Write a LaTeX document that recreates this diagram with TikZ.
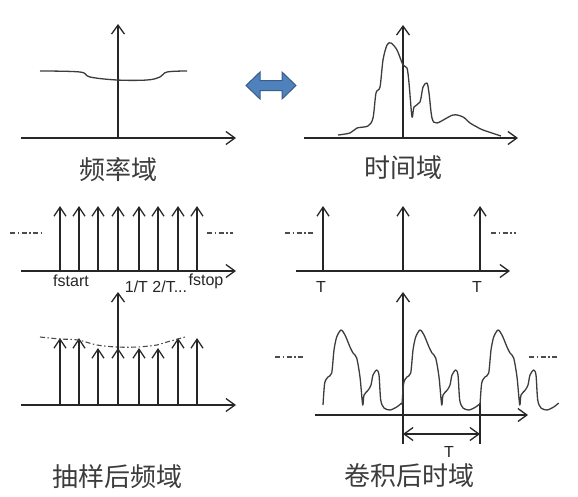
\documentclass[tikz,border=0pt]{standalone}
\usepackage{fontspec}
\setmainfont{Liberation Sans}
\newfontfamily\cjk{Noto Sans CJK SC}
\usetikzlibrary{arrows.meta}
\definecolor{ink}{HTML}{262626}
\definecolor{bluefill}{HTML}{4F81BD}
\definecolor{blueedge}{HTML}{385D8A}
\tikzset{
  ax/.style={draw=ink, line width=1.4pt, -{Straight Barb[length=9pt,width=13pt,line width=1.3pt]}},
  imp/.style={draw=ink, line width=1.4pt, -{Straight Barb[length=9pt,width=12pt,line width=1.3pt]}},
  sig/.style={draw=ink!90, line width=1.3pt, line join=round},
  dd/.style={draw=black!70, line width=1.1pt, dash pattern=on 5pt off 2.5pt on 1.5pt off 2.5pt},
  cjklab/.style={font=\cjk\fontsize{26}{28}\selectfont, text=ink!90, inner sep=0pt},
  lat/.style={font=\fontsize{16}{18}\selectfont, text=ink, inner sep=0pt},
}
\begin{document}
\begin{tikzpicture}[x=1pt,y=-1pt]
\useasboundingbox (0,0) rectangle (578,496);
\fill[white] (0,0) rectangle (578,496);

% ---------- Panel 1: frequency domain ----------
\coordinate (p1o) at (118,138);
\coordinate (p1l) at (21,138);
\coordinate (p1r) at (236,138);
\coordinate (p1t) at (118,24);
\draw[ax] (p1l) -- (p1r);
\draw[ax] (p1o) -- (p1t);
\draw[sig] plot[smooth, tension=0.6] coordinates {(40,71) (80,72) (90,77) (117,80) (147,80) (160,77) (167,72) (187,71)};
\node[cjklab] (l1) at (118,170) {频率域};

% ---------- Double arrow ----------
\filldraw[fill=bluefill, draw=blueedge, line width=1pt, line join=miter]
  (246,85.5) -- (260,72) -- (260,80.5) -- (282,80.5) -- (282,72) -- (296,85.5)
  -- (282,99) -- (282,90.5) -- (260,90.5) -- (260,99) -- cycle;

% ---------- Panel 2: time domain ----------
\coordinate (p2o) at (403,138);
\coordinate (p2l) at (304,138);
\coordinate (p2r) at (518,138);
\coordinate (p2t) at (403,25);
\draw[ax] (p2l) -- (p2r);
\draw[ax] (p2o) -- (p2t);
\draw[sig] plot[smooth, tension=0.5] coordinates {
 (338,135) (350,133) (357,128) (368,126) (373,118) (376,93) (380,87) (383,60)
 (387,45) (391,43) (397,50) (403,65) (407,68) (409,83) (412,117) (414,107)
 (420,102) (423,87) (427,83) (429,93) (432,118) (437,123) (453,115) (463,117)
 (470,123) (477,127) (483,130) (501,136)};
\node[cjklab] (l2) at (403,168) {时间域};

% ---------- Panel 3: sampling comb (frequency) ----------
\coordinate (p3l) at (21,271);
\coordinate (p3r) at (236,271);
\draw[ax] (p3l) -- (p3r);
\foreach \x [count=\i] in {60,79,98,118,139,158,178,197} {
  \coordinate (c3b\i) at (\x,271);
  \coordinate (c3t\i) at (\x,206);
  \draw[imp] (c3b\i) -- (c3t\i);
}
\coordinate (d3a) at (10,233); \coordinate (d3b) at (41,233);
\coordinate (d3c) at (207,233); \coordinate (d3d) at (233,233);
\draw[dd] (d3a) -- (d3b);
\draw[dd] (d3c) -- (d3d);
\node[lat] (fs) at (71,281) {fstart};
\node[lat] (ft) at (156,287) {1/T 2/T...};
\node[lat] (fp) at (206,281) {fstop};

% ---------- Panel 4: sampling comb (time) ----------
\coordinate (p4l) at (296,271);
\coordinate (p4r) at (510,271);
\draw[ax] (p4l) -- (p4r);
\foreach \x [count=\i] in {323,403,480} {
  \coordinate (c4b\i) at (\x,271);
  \coordinate (c4t\i) at (\x,206);
  \draw[imp] (c4b\i) -- (c4t\i);
}
\coordinate (d4a) at (285,233); \coordinate (d4b) at (315,233);
\coordinate (d4c) at (491,233); \coordinate (d4d) at (516,233);
\draw[dd] (d4a) -- (d4b);
\draw[dd] (d4c) -- (d4d);
\node[lat] (t1) at (321,287) {T};
\node[lat] (t2) at (477,287) {T};

% ---------- Panel 5: sampled spectrum ----------
\coordinate (p5l) at (21,405);
\coordinate (p5r) at (236,405);
\coordinate (p5o) at (118,405);
\coordinate (p5t) at (118,292);
\draw[ax] (p5l) -- (p5r);
\draw[ax] (p5o) -- (p5t);
\foreach \x/\y [count=\i] in {60/338,79/338,98/348,118/348,139/348,158/348,178/338,197/338} {
  \coordinate (c5b\i) at (\x,405);
  \coordinate (c5t\i) at (\x,\y);
  \draw[imp] (c5b\i) -- (c5t\i);
}
\draw[dd] plot[smooth, tension=0.6] coordinates {(40,337) (60,339) (78,340) (97,345) (117,347) (137,347) (157,345) (167,342) (185,337)};
\node[cjklab] (l5) at (117,477) {抽样后频域};

% ---------- Panel 6: periodic time signal ----------
\coordinate (p6l) at (315,415);
\coordinate (p6r) at (528,415);
\coordinate (p6o) at (403,444);
\coordinate (p6t) at (403,292);
\draw[ax] (p6l) -- (p6r);
\draw[ax] (p6o) -- (p6t);
\coordinate (p6m) at (480,444);
\coordinate (p6n) at (480,403);
\draw[draw=ink, line width=1.4pt] (p6m) -- (p6n);
\foreach \px in {323,402,480} {
  \draw[sig, shift={(\px,0)}] plot[smooth, tension=0.45] coordinates {
    (0,405) (1.7,383) (5,377) (8.7,373) (11,350) (13.7,337) (18,330) (22,335)
    (27,347) (30,353) (33.7,358) (37,377) (39.7,405) (41,395) (45.3,390) (48,385)
    (50,375) (53.7,370) (56,375) (57.7,400) (61,408) (67,410) (73.7,407) (78.7,403)};
}
\coordinate (ta) at (403,434);
\coordinate (tb) at (480,434);
\draw[draw=ink, line width=1.4pt, {Straight Barb[length=9pt,width=13pt,line width=1.3pt]}-{Straight Barb[length=9pt,width=13pt,line width=1.3pt]}] (ta) -- (tb);
\node[lat] (tl) at (449,452) {T};
\coordinate (d6a) at (275,357); \coordinate (d6b) at (305,357);
\coordinate (d6c) at (529,357); \coordinate (d6d) at (559,357);
\draw[dd] (d6a) -- (d6b);
\draw[dd] (d6c) -- (d6d);
\node[cjklab] (l6) at (409,476) {卷积后时域};
\end{tikzpicture}
\end{document}
